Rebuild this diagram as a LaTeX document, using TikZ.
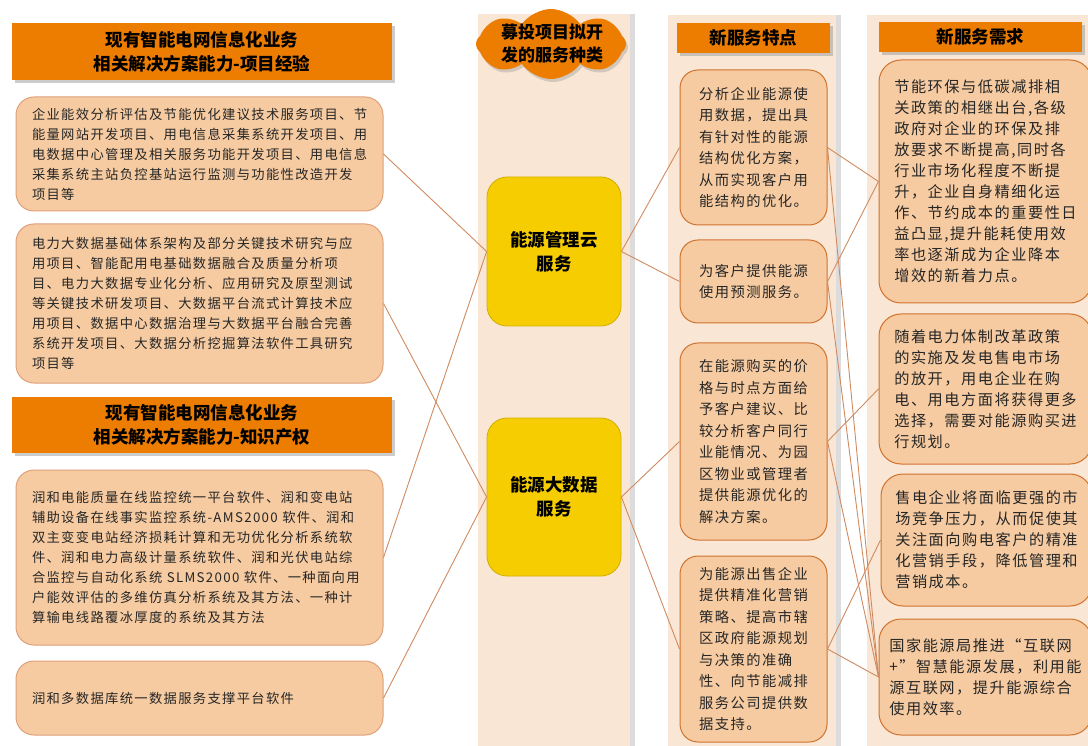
\documentclass[tikz,border=0pt]{standalone}
\usepackage{fontspec}
\setmainfont{Noto Sans CJK SC}
\newfontfamily\bodyfont[LetterSpace=10]{Noto Sans CJK SC}
\usetikzlibrary{shapes.symbols,shadows}
\definecolor{panelc}{HTML}{F9E6D4}
\definecolor{boxc}{HTML}{F6CBA1}
\definecolor{leftline}{HTML}{DFA07A}
\definecolor{featline}{HTML}{D0732F}
\definecolor{headc}{HTML}{EC7D00}
\definecolor{svcc}{HTML}{F6CD00}
\definecolor{svcline}{HTML}{D2AE00}
\definecolor{linkc}{HTML}{D08A60}
\begin{document}
\begin{tikzpicture}[x=1pt,y=-1pt,
  panel/.style={fill=panelc,drop shadow={shadow xshift=5pt,shadow yshift=0pt,fill=black!30,opacity=.45}},
  headbox/.style={fill=headc,inner sep=0pt,align=center,text=black,
    font=\bfseries\fontsize{17.5}{24}\selectfont,
    drop shadow={shadow xshift=3pt,shadow yshift=-3pt,fill=black!40,opacity=.5}},
  leftbox/.style={rounded corners=18pt,fill=boxc,draw=leftline,line width=1pt,
    text width=335pt,inner xsep=16pt,align=left,text=black!85,
    font=\bodyfont\fontsize{13.3}{20}\selectfont},
  featbox/.style={rounded corners=18pt,fill=boxc,draw=featline,line width=1pt,
    minimum width=147pt,align=left,text=black!85,
    font=\bodyfont\fontsize{14.3}{21.5}\selectfont},
  needbox/.style={rounded corners=22pt,fill=boxc,draw=featline,line width=1pt,
    minimum width=213pt,align=left,text=black!85,
    font=\bodyfont\fontsize{15.2}{21}\selectfont},
  svcbox/.style={rounded corners=20pt,fill=svcc,draw=svcline,line width=.8pt,
    minimum width=134pt,align=center,font=\bfseries\fontsize{17.5}{24}\selectfont},
  link/.style={draw=linkc,line width=.9pt}]
  \useasboundingbox (0,0) rectangle (1088,746);

  % column panels
  \fill[panel] (478,14) rectangle (630,760);
  \fill[panel] (668,15) rectangle (836,760);
  \fill[panel] (867,15) rectangle (1100,760);

  % existing capability
  \node[headbox,minimum width=380pt,minimum height=57pt] (head1) at (202,51.5)
    {现有智能电网信息化业务\\相关解决方案能力-项目经验};
  \node[leftbox,minimum height=114pt] (L1) at (199.5,154)
    {企业能效分析评估及节能优化建议技术服务项目、节\\能量网站开发项目、用电信息采集系统开发项目、用\\电数据中心管理及相关服务功能开发项目、用电信息\\采集系统主站负控基站运行监测与功能性改造开发\\项目等};
  \node[leftbox,minimum height=159pt] (L2) at (199.5,303.5)
    {电力大数据基础体系架构及部分关键技术研究与应\\用项目、智能配用电基础数据融合及质量分析项\\目、电力大数据专业化分析、应用研究及原型测试\\等关键技术研发项目、大数据平台流式计算技术应\\用项目、数据中心数据治理与大数据平台融合完善\\系统开发项目、大数据分析挖掘算法软件工具研究\\项目等};
  \node[headbox,minimum width=380pt,minimum height=56pt] (head2) at (202,425)
    {现有智能电网信息化业务\\相关解决方案能力-知识产权};
  \node[leftbox,minimum height=175pt] (L3) at (199.5,557.5)
    {润和电能质量在线监控统一平台软件、润和变电站\\辅助设备在线事实监控系统-AMS2000 软件、润和\\双主变变电站经济损耗计算和无功优化分析系统软\\件、润和电力高级计量系统软件、润和光伏电站综\\合监控与自动化系统 SLMS2000 软件、一种面向用\\户能效评估的多维仿真分析系统及其方法、一种计\\算输电线路覆冰厚度的系统及其方法};
  \node[leftbox,minimum height=74pt] (L4) at (199.5,698)
    {润和多数据库统一数据服务支撑平台软件};

  % services
  \node[cloud,cloud puffs=8,cloud puff arc=110,cloud ignores aspect,fill=headc,minimum width=150pt,
    minimum height=70pt,drop shadow={shadow xshift=2pt,shadow yshift=-3pt,fill=black!40,opacity=.4}] (cloud) at (551,44) {};
  \node[align=center,font=\bfseries\fontsize{17}{23}\selectfont] (cloudtxt) at (552,44)
    {募投项目拟开\\发的服务种类};
  \node[svcbox,minimum height=149pt] (Y1) at (554,251.5) {能源管理云\\服务};
  \node[svcbox,minimum height=158pt] (Y2) at (554,497) {能源大数据\\服务};

  % features
  \node[headbox,minimum width=153pt,minimum height=30pt] (fhead) at (753.5,38) {新服务特点};
  \node[featbox,minimum height=155pt] (F1) at (753.5,147.5)
    {分析企业能源使\\用数据，提出具\\有针对性的能源\\结构优化方案，\\从而实现客户用\\能结构的优化。};
  \node[featbox,minimum height=83pt] (F2) at (753.5,281.5)
    {为客户提供能源\\使用预测服务。};
  \node[featbox,minimum height=197pt] (F3) at (753.5,441.5)
    {在能源购买的价\\格与时点方面给\\予客户建议、比\\较分析客户同行\\业能情况、为园\\区物业或管理者\\提供能源优化的\\解决方案。};
  \node[featbox,minimum height=186pt] (F4) at (753.5,649)
    {为能源出售企业\\提供精准化营销\\策略、提高市辖\\区政府能源规划\\与决策的准确\\性、向节能减排\\服务公司提供数\\据支持。};

  % needs
  \node[headbox,minimum width=203pt,minimum height=30pt] (nhead) at (980.5,37) {新服务需求};
  \node[needbox,minimum height=243pt] (N1) at (985.5,181.5)
    {节能环保与低碳减排相\\关政策的相继出台,各级\\政府对企业的环保及排\\放要求不断提高,同时各\\行业市场化程度不断提\\升，企业自身精细化运\\作、节约成本的重要性日\\益凸显,提升能耗使用效\\率也逐渐成为企业降本\\增效的新着力点。};
  \node[needbox,minimum height=150pt] (N2) at (985.5,389)
    {随着电力体制改革政策\\的实施及发电售电市场\\的放开，用电企业在购\\电、用电方面将获得更多\\选择，需要对能源购买进\\行规划。};
  \node[needbox,minimum width=211pt,minimum height=132pt] (N3) at (986.5,540)
    {售电企业将面临更强的市\\场竞争压力，从而促使其\\关注面向购电客户的精准\\化营销手段，降低管理和\\营销成本。};
  \node[needbox,minimum height=116pt] (N4) at (985.5,677)
    {国家能源局推进“互联网\\+”智慧能源发展，利用能\\源互联网，提升能源综合\\使用效率。};

  % links
  \draw[link] (L1.east) -- (Y1.west);
  \draw[link] (L3.east) -- (Y1.west);
  \draw[link] (L2.east) -- (Y2.west);
  \draw[link] (L4.east) -- (Y2.west);
  \draw[link] (Y1.east) -- (F1.west);
  \draw[link] (Y1.east) -- (F2.west);
  \draw[link] (Y2.east) -- (F3.west);
  \draw[link] (Y2.east) -- (F4.west);
  \draw[link] (F1.east) -- (N1.west);
  \draw[link] (F2.east) -- (N1.west);
  \draw[link] (F3.east) -- (N2.west);
  \draw[link] (F4.east) -- (N3.west);
  \foreach \f in {F1,F2,F3,F4}
    \draw[link] (\f.east) -- (N4.west);
\end{tikzpicture}
\end{document}
